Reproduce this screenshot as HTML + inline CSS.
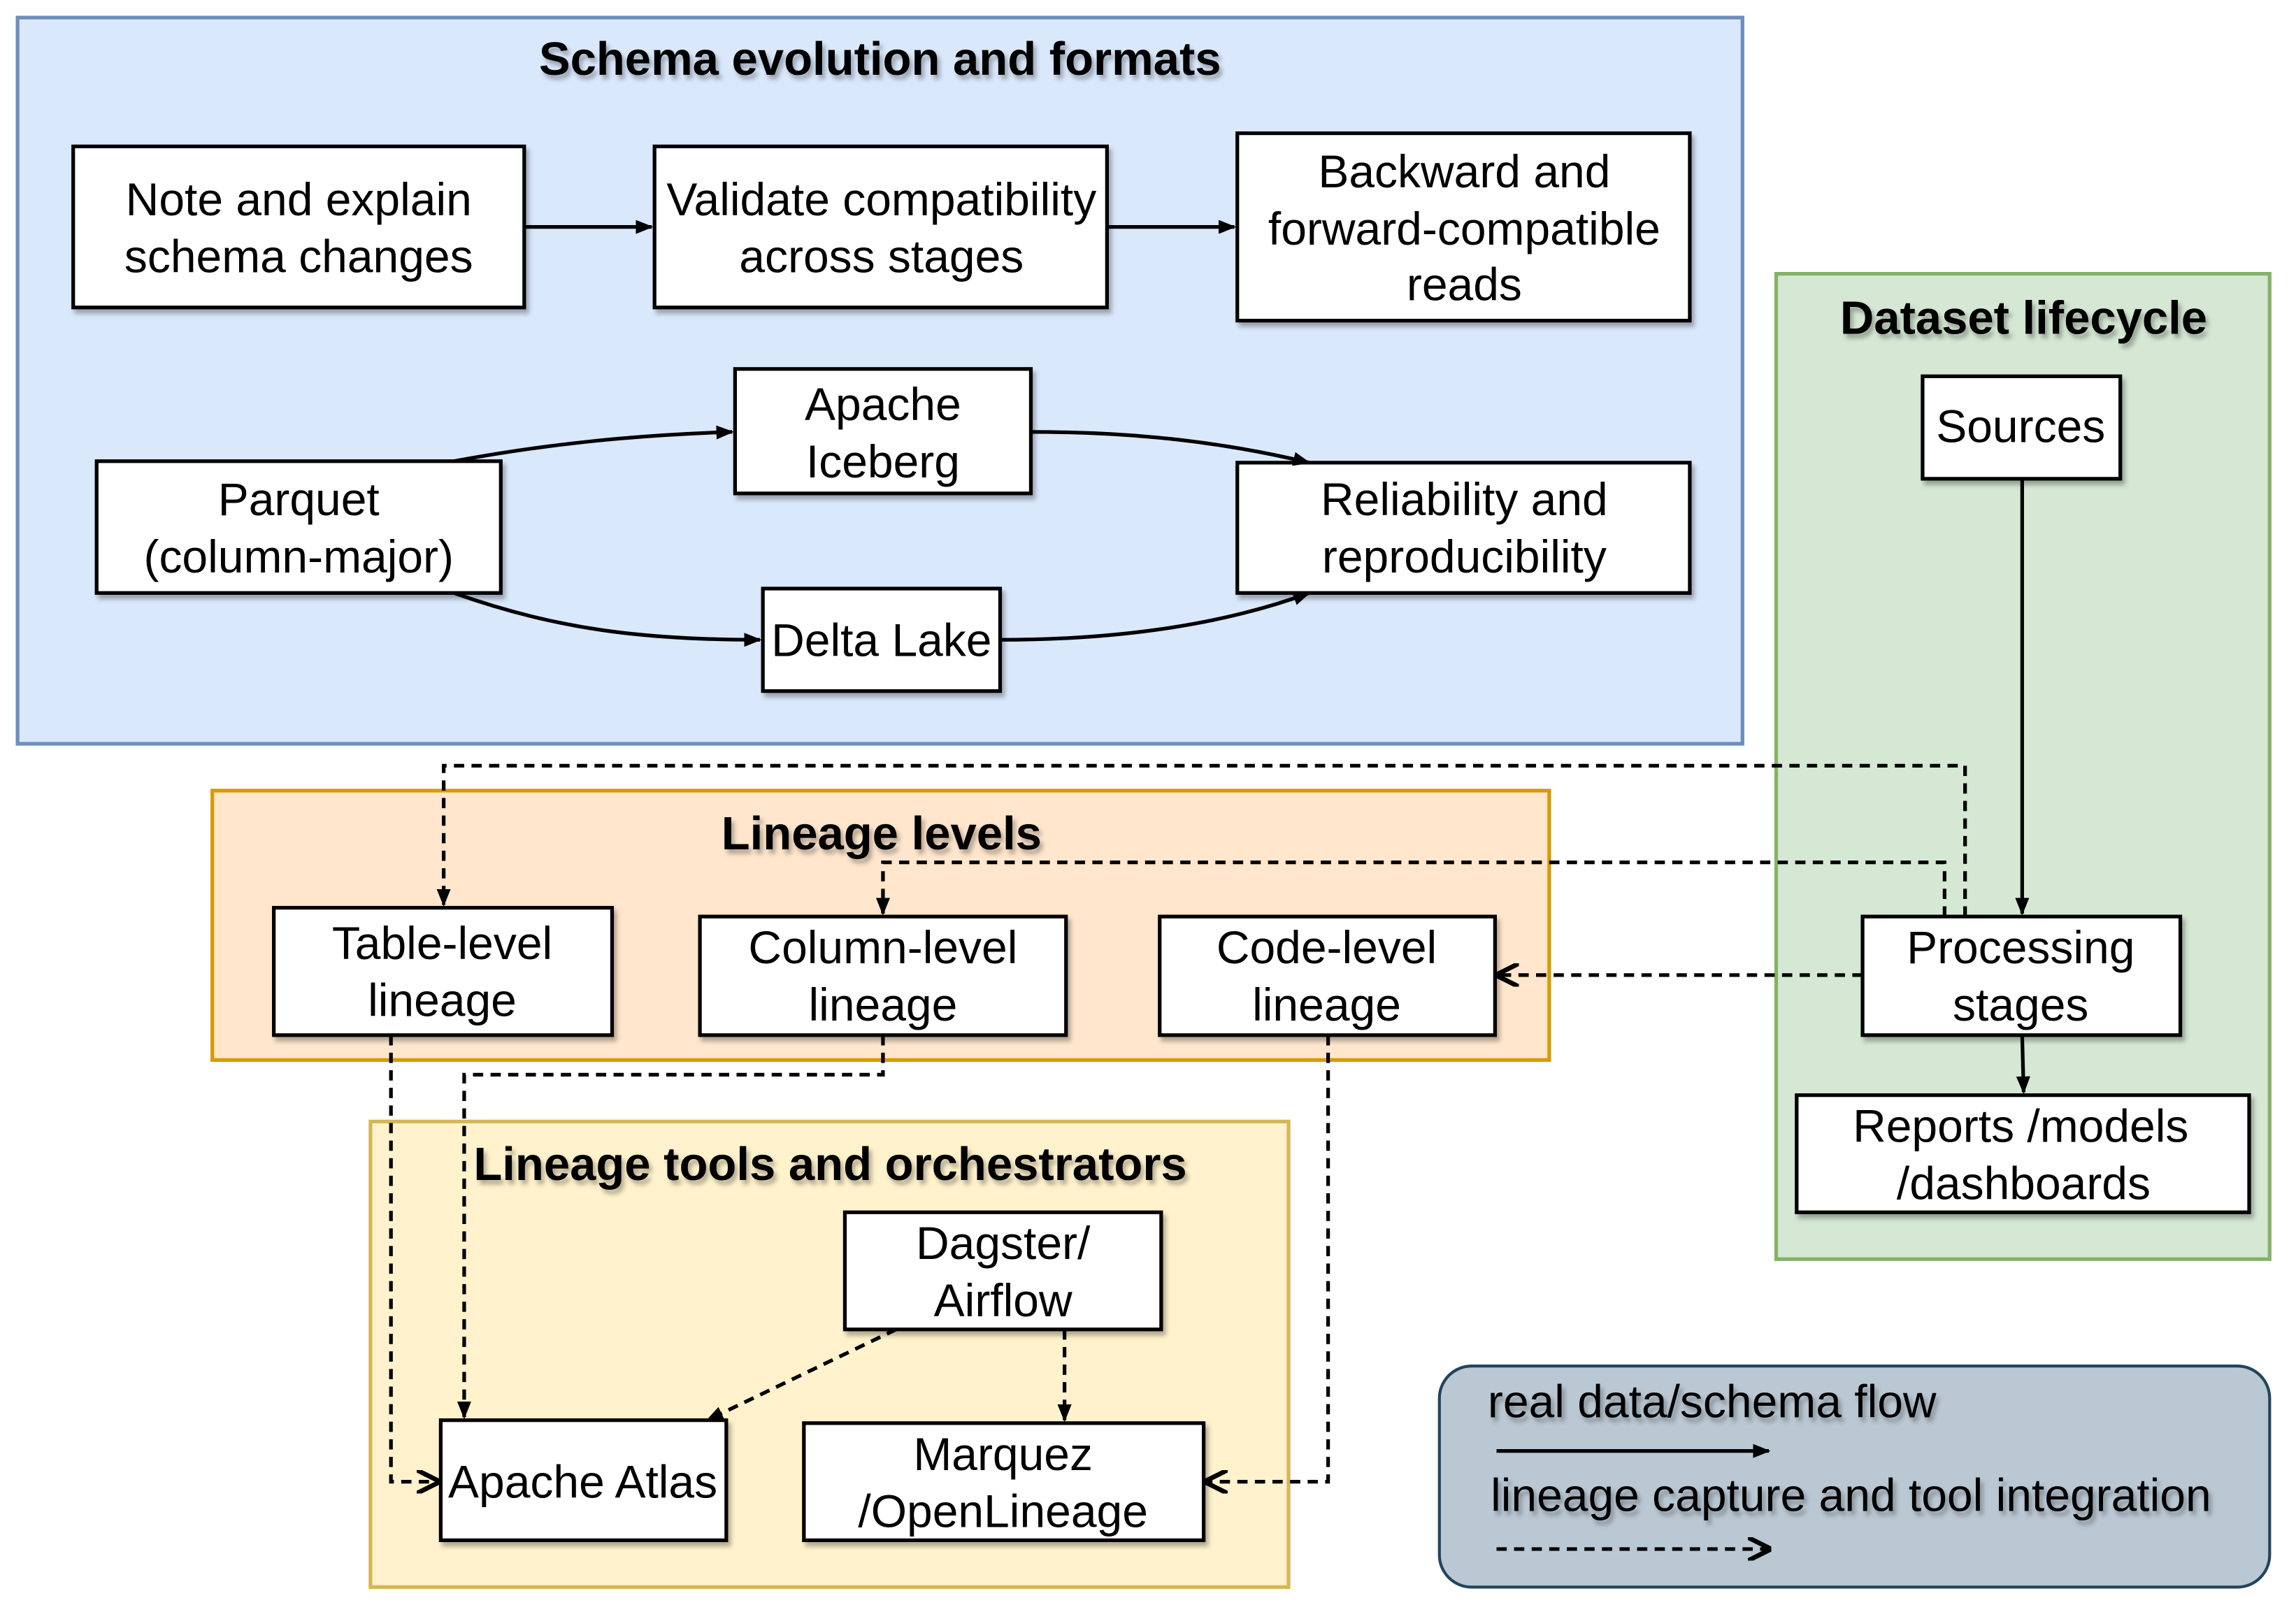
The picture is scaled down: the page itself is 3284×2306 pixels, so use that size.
<!DOCTYPE html>
<html><head><meta charset="utf-8"><style>
html,body{margin:0;padding:0;background:#fff;}
svg{display:block;}
text{font-family:"Liberation Sans",sans-serif;font-size:31.5px;fill:#000;text-anchor:middle;}
.t{font-weight:bold;font-size:32px;}
.b{fill:#fff;stroke:#000;stroke-width:2.5;}
.s{fill:none;stroke:#000;stroke-width:2.5;}
.d{fill:none;stroke:#000;stroke-width:2.5;stroke-dasharray:7 5;}
</style></head><body>
<svg width="3284" height="2306" viewBox="0 0 1568 1101" preserveAspectRatio="none" xmlns="http://www.w3.org/2000/svg">
<defs>
<marker id="a" viewBox="0 0 10 10" refX="9" refY="5" markerWidth="12" markerHeight="12" markerUnits="userSpaceOnUse" orient="auto"><path d="M0,1 L10,5 L0,9 z" fill="#000"/></marker>
<marker id="o" viewBox="0 0 10 10" refX="9" refY="5" markerWidth="16" markerHeight="16" markerUnits="userSpaceOnUse" orient="auto"><path d="M0,0 L10,5 L0,10" fill="none" stroke="#000" stroke-width="2"/></marker>
<filter id="sh" x="-5%" y="-5%" width="120%" height="130%"><feDropShadow dx="2" dy="3" stdDeviation="1.5" flood-opacity="0.3"/></filter>
</defs>
<rect x="12" y="12" width="1178" height="496" fill="#dae8fc" stroke="#6c8ebf" stroke-width="2.5"/>
<rect x="1213" y="187" width="337" height="673" fill="#d5e8d4" stroke="#82b366" stroke-width="2.5"/>
<rect x="145" y="540" width="913" height="184" fill="#ffe6cc" stroke="#d79b00" stroke-width="2.5"/>
<rect x="253" y="766" width="627" height="318" fill="#fff2cc" stroke="#d6b656" stroke-width="2.5"/>
<rect x="983" y="933" width="567" height="151" rx="22" fill="#bac8d3" stroke="#23445d" stroke-width="2"/>
<g filter="url(#sh)">
<text class="t" x="601" y="51">Schema evolution and formats</text>
<text class="t" x="1382" y="228">Dataset lifecycle</text>
<text class="t" x="602" y="580">Lineage levels</text>
<text class="t" x="567" y="806">Lineage tools and orchestrators</text>
<rect class="b" x="50" y="100" width="308" height="110"/>
<rect class="b" x="447" y="100" width="309" height="110"/>
<rect class="b" x="845" y="91" width="309" height="128"/>
<rect class="b" x="66" y="315" width="276" height="90"/>
<rect class="b" x="502" y="252" width="202" height="85"/>
<rect class="b" x="845" y="316" width="309" height="89"/>
<rect class="b" x="521" y="402" width="162" height="70"/>
<rect class="b" x="1313" y="257" width="135" height="70"/>
<rect class="b" x="1272" y="626" width="217" height="81"/>
<rect class="b" x="1227" y="748" width="309" height="80"/>
<rect class="b" x="187" y="620" width="231" height="87"/>
<rect class="b" x="478" y="626" width="250" height="81"/>
<rect class="b" x="792" y="626" width="229" height="81"/>
<rect class="b" x="577" y="828" width="216" height="80"/>
<rect class="b" x="301" y="970" width="195" height="82"/>
<rect class="b" x="549" y="972" width="273" height="80"/>
<text x="204" y="147">Note and explain</text><text x="204" y="186">schema changes</text>
<text x="602" y="147">Validate compatibility</text><text x="602" y="186">across stages</text>
<text x="1000" y="128">Backward and</text><text x="1000" y="167">forward-compatible</text><text x="1000" y="205">reads</text>
<text x="204" y="352">Parquet</text><text x="204" y="391">(column-major)</text>
<text x="603" y="287">Apache</text><text x="603" y="326">Iceberg</text>
<text x="1000" y="352">Reliability and</text><text x="1000" y="391">reproducibility</text>
<text x="602" y="448">Delta Lake</text>
<text x="1380" y="302">Sources</text>
<text x="1380" y="658">Processing</text><text x="1380" y="697">stages</text>
<text x="1380" y="780">Reports /models</text><text x="1382" y="819">/dashboards</text>
<text x="302" y="655">Table-level</text><text x="302" y="694">lineage</text>
<text x="603" y="658">Column-level</text><text x="603" y="697">lineage</text>
<text x="906" y="658">Code-level</text><text x="906" y="697">lineage</text>
<text x="685" y="860">Dagster/</text><text x="685" y="899">Airflow</text>
<text x="398" y="1023">Apache Atlas</text>
<text x="685" y="1004">Marquez</text><text x="685" y="1043">/OpenLineage</text>
<text x="1016" y="968" style="text-anchor:start">real data/schema flow</text>
<text x="1018" y="1032" style="text-anchor:start">lineage capture and tool integration</text>
</g>
<path class="s" d="M358,155 L445,155" marker-end="url(#a)"/>
<path class="s" d="M756,155 L843,155" marker-end="url(#a)"/>
<path class="s" d="M310,315 C380,302 440,297 500,295" marker-end="url(#a)"/>
<path class="s" d="M704,295 C780,295 840,303 894,316" marker-end="url(#a)"/>
<path class="s" d="M310,405 C380,430 440,437 519,437" marker-end="url(#a)"/>
<path class="s" d="M683,437 C770,437 840,425 894,405" marker-end="url(#a)"/>
<path class="s" d="M1381,327 L1381,624" marker-end="url(#a)"/>
<path class="s" d="M1381,707 L1382,746" marker-end="url(#a)"/>
<path class="s" d="M1022,991 L1208,991" marker-end="url(#a)"/>
<path class="d" d="M1342,626 L1342,523 L303,523 L303,618" marker-end="url(#a)"/>
<path class="d" d="M1328,626 L1328,589 L603,589 L603,624" marker-end="url(#a)"/>
<path class="d" d="M1272,666 L1023,666" marker-end="url(#o)"/>
<path class="d" d="M267,707 L267,1012 L299,1012" marker-end="url(#o)"/>
<path class="d" d="M603,707 L603,734 L317,734 L317,968" marker-end="url(#a)"/>
<path class="d" d="M907,707 L907,1012 L824,1012" marker-end="url(#o)"/>
<path class="d" d="M612,908 L483,970" marker-end="url(#a)"/>
<path class="d" d="M727,908 L727,970" marker-end="url(#a)"/>
<path class="d" d="M1022,1058 L1208,1058" marker-end="url(#o)"/>
</svg>
</body></html>
